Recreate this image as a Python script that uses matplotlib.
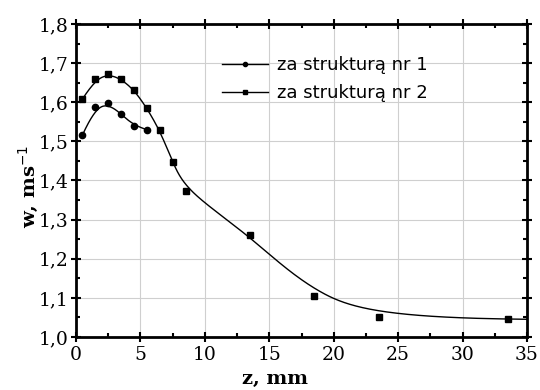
import numpy as np
import matplotlib
matplotlib.use("Agg")
import matplotlib.pyplot as plt
from matplotlib.ticker import MultipleLocator, FuncFormatter

# Data
z1 = [0.5, 1.5, 2.5, 3.5, 4.5, 5.5]
w1 = [1.516, 1.588, 1.597, 1.570, 1.540, 1.530]
z2 = [0.5, 1.5, 2.5, 3.5, 4.5, 5.5, 6.5, 7.5, 8.5, 13.5, 18.5, 23.5, 33.5]
w2 = [1.608, 1.659, 1.673, 1.659, 1.632, 1.585, 1.528, 1.448, 1.374, 1.260, 1.104, 1.051, 1.046]
label1 = "za strukturą nr 1"
label2 = "za strukturą nr 2"
xlabel = "z, mm"
ylabel = "w, ms$^{-1}$"


def bspline_curve(px, py, num=600, k=3):
    """Clamped cubic B-spline using the data points as control points."""
    P = np.column_stack([px, py]).astype(float)
    n = len(P)
    inner = np.arange(1, n - k)
    knots = np.concatenate([np.zeros(k + 1), inner, np.full(k + 1, n - k)]).astype(float)
    t = np.linspace(0, n - k, num)
    m = len(knots) - 1
    B = np.zeros((num, m))
    for i in range(m):
        B[:, i] = (knots[i] <= t) & (t < knots[i + 1])
    last = np.where(knots[:-1] < knots[1:])[0][-1]
    B[t >= knots[-1], :] = 0
    B[t >= knots[-1], last] = 1
    for d in range(1, k + 1):
        Bn = np.zeros((num, m - d))
        for i in range(m - d):
            term = np.zeros(num)
            den1 = knots[i + d] - knots[i]
            den2 = knots[i + d + 1] - knots[i + 1]
            if den1 > 0:
                term += (t - knots[i]) / den1 * B[:, i]
            if den2 > 0:
                term += (knots[i + d + 1] - t) / den2 * B[:, i + 1]
            Bn[:, i] = term
        B = Bn
    C = B @ P
    return C[:, 0], C[:, 1]


XMAX = 35

fig = plt.figure(figsize=(5.4, 3.9), dpi=100)
ax = fig.add_axes([0.1407, 0.1359, 0.976 - 0.1407, 0.9385 - 0.1359])

cx1, cy1 = bspline_curve(z1, w1)
cx2, cy2 = bspline_curve(z2, w2)
# continue series 2 along its end tangent to the right border
slope = (w2[-1] - w2[-2]) / (z2[-1] - z2[-2])
cx2 = np.append(cx2, XMAX)
cy2 = np.append(cy2, w2[-1] + slope * (XMAX - z2[-1]))

ax.plot(cx1, cy1, color="black", lw=1.0)
ax.plot(cx2, cy2, color="black", lw=1.0)
ax.plot(z1, w1, "o", color="black", ms=4.5, zorder=5)
ax.plot(z2, w2, "s", color="black", ms=4.3, zorder=5)

# legend proxies
h1, = ax.plot([], [], "-o", color="black", lw=1.0, ms=3)
h2, = ax.plot([], [], "-s", color="black", lw=1.0, ms=3)
leg = fig.legend([h1, h2], [label1, label2], loc="upper left",
                 bbox_to_anchor=(222 / 540, 1 - 56 / 390), frameon=False,
                 borderpad=0, borderaxespad=0, handlelength=2.55,
                 handletextpad=0.5, labelspacing=0.55,
                 prop={"family": "DejaVu Sans", "size": 13})

ax.set_xlim(0, XMAX)
ax.set_ylim(1.0, 1.8)
ax.xaxis.set_major_locator(MultipleLocator(5))
ax.xaxis.set_minor_locator(MultipleLocator(2.5))
ax.yaxis.set_major_locator(MultipleLocator(0.1))
ax.yaxis.set_minor_locator(MultipleLocator(0.05))
ax.yaxis.set_major_formatter(FuncFormatter(lambda v, p: f"{v:.1f}".replace(".", ",")))
ax.grid(True, which="major", color="#cfcfcf", lw=0.8)
ax.set_axisbelow(True)
for s in ax.spines.values():
    s.set_linewidth(2.0)
ax.tick_params(which="both", top=True, right=True, width=1.5)
ax.tick_params(axis="both", which="major", direction="inout", length=7,
               labelsize=13.5)
ax.tick_params(axis="x", which="major", pad=3)
ax.tick_params(axis="y", which="major", pad=2)
ax.tick_params(axis="both", which="minor", direction="in", length=3)
for lab in ax.get_xticklabels() + ax.get_yticklabels():
    lab.set_family("DejaVu Serif")

ax.set_xlabel(xlabel, family="DejaVu Serif", fontweight="bold", fontsize=14)
ax.xaxis.label.set_va("baseline")
ax.xaxis.set_label_coords((275 - 76) / 451, (337 - 384) / 313)
ax.set_ylabel(ylabel, family="DejaVu Serif", fontweight="bold", fontsize=14)
ax.yaxis.label.set_va("center")
ax.yaxis.set_label_coords((28 - 76) / 451, (337 - 186) / 313)

fig.savefig("out.png", dpi=100)
